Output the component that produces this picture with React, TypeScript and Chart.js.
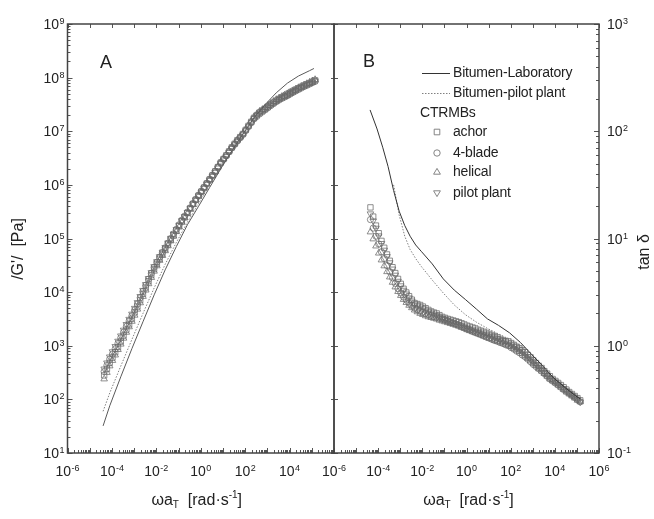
import React, { useEffect, useRef } from 'react';
import { Chart, registerables } from 'chart.js';
Chart.register(...registerables);

const FONT = '"Liberation Sans", Arial, Helvetica, sans-serif';

// ---------- data ----------
// frequencies of the CTRMB measurements (rad/s), 8 per decade
const freq = [4.47e-5, 5.96e-5, 7.94e-5,
  1.06e-4, 1.41e-4, 1.88e-4, 2.51e-4, 3.35e-4, 4.47e-4, 5.96e-4, 7.94e-4,
  1.06e-3, 1.41e-3, 1.88e-3, 2.51e-3, 3.35e-3, 4.47e-3, 5.96e-3, 7.94e-3,
  1.06e-2, 1.41e-2, 1.88e-2, 2.51e-2, 3.35e-2, 4.47e-2, 5.96e-2, 7.94e-2,
  0.106, 0.141, 0.188, 0.251, 0.335, 0.447, 0.596, 0.794,
  1.06, 1.41, 1.88, 2.51, 3.35, 4.47, 5.96, 7.94,
  10.6, 14.1, 18.8, 25.1, 33.5, 44.7, 59.6, 79.4,
  106, 141, 188, 251, 335, 447, 596, 794,
  1060, 1410, 1880, 2510, 3350, 4470, 5960, 7940,
  1.06e4, 1.41e4, 1.88e4, 2.51e4, 3.35e4, 4.47e4, 5.96e4, 7.94e4,
  1.06e5, 1.41e5];

// Panel A: |G'| [Pa]
const gAchor = [280, 370, 480, 600, 760, 950, 1200, 1550, 2000, 2500,
  3200, 4200, 5400, 7100, 9300, 1.22e4, 1.6e4, 2.08e4, 2.7e4, 3.37e4,
  4.2e4, 5.14e4, 6.3e4, 7.74e4, 9.5e4, 1.15e5, 1.4e5, 1.71e5, 2.1e5, 2.51e5,
  3.0e5, 3.63e5, 4.4e5, 5.27e5, 6.3e5, 7.49e5, 8.9e5, 1.06e6, 1.26e6, 1.5e6,
  1.78e6, 2.15e6, 2.6e6, 3.04e6, 3.55e6, 4.21e6, 5.0e6, 5.83e6, 6.8e6, 7.78e6,
  8.9e6, 1.06e7, 1.26e7, 1.5e7, 1.78e7, 2.0e7, 2.24e7, 2.43e7, 2.63e7, 2.88e7,
  3.16e7, 3.43e7, 3.72e7, 3.99e7, 4.27e7, 4.53e7, 4.8e7, 5.14e7, 5.5e7, 5.89e7,
  6.3e7, 6.69e7, 7.1e7, 7.49e7, 7.9e7, 8.39e7, 8.9e7];
const gBlade = [330, 430, 560, 700, 880, 1110, 1400, 1790, 2300, 2880,
  3600, 4650, 6000, 7860, 1.03e4, 1.34e4, 1.75e4, 2.25e4, 2.9e4, 3.61e4,
  4.5e4, 5.49e4, 6.7e4, 8.19e4, 1.0e5, 1.22e5, 1.48e5, 1.8e5, 2.2e5, 2.61e5,
  3.1e5, 3.73e5, 4.5e5, 5.37e5, 6.4e5, 7.59e5, 9.0e5, 1.07e6, 1.27e6, 1.51e6,
  1.8e6, 2.16e6, 2.6e6, 3.02e6, 3.5e6, 4.14e6, 4.9e6, 5.69e6, 6.6e6, 7.58e6,
  8.7e6, 1.03e7, 1.22e7, 1.44e7, 1.7e7, 1.89e7, 2.1e7, 2.29e7, 2.5e7, 2.74e7,
  3.0e7, 3.26e7, 3.55e7, 3.82e7, 4.1e7, 4.34e7, 4.6e7, 4.94e7, 5.3e7, 5.64e7,
  6.0e7, 6.39e7, 6.8e7, 7.19e7, 7.6e7, 8.04e7, 8.5e7];
const gHelical = [240, 317, 420, 530, 670, 847, 1070, 1380, 1780, 2250,
  2850, 3700, 4800, 6310, 8300, 1.09e4, 1.43e4, 1.87e4, 2.45e4, 3.09e4,
  3.9e4, 4.8e4, 5.9e4, 7.29e4, 9.0e4, 1.1e5, 1.34e5, 1.64e5, 2.0e5, 2.41e5,
  2.9e5, 3.53e5, 4.3e5, 5.16e5, 6.2e5, 7.39e5, 8.8e5, 1.05e6, 1.25e6, 1.49e6,
  1.78e6, 2.17e6, 2.65e6, 3.09e6, 3.6e6, 4.28e6, 5.1e6, 5.93e6, 6.9e6, 7.92e6,
  9.1e6, 1.09e7, 1.3e7, 1.55e7, 1.85e7, 2.09e7, 2.35e7, 2.54e7, 2.75e7, 3.01e7,
  3.3e7, 3.59e7, 3.9e7, 4.17e7, 4.45e7, 4.72e7, 5.0e7, 5.34e7, 5.7e7, 6.09e7,
  6.5e7, 6.89e7, 7.3e7, 7.74e7, 8.2e7, 8.69e7, 9.2e7];
const gPilot = [370, 479, 620, 775, 970, 1220, 1530, 1960, 2500, 3120,
  3900, 5000, 6400, 8310, 1.08e4, 1.39e4, 1.8e4, 2.32e4, 3.0e4, 3.71e4,
  4.6e4, 5.59e4, 6.8e4, 8.29e4, 1.01e5, 1.22e5, 1.47e5, 1.78e5, 2.15e5, 2.56e5,
  3.05e5, 3.66e5, 4.4e5, 5.22e5, 6.2e5, 7.34e5, 8.7e5, 1.03e6, 1.22e6, 1.45e6,
  1.72e6, 2.07e6, 2.5e6, 2.92e6, 3.4e6, 4.04e6, 4.8e6, 5.59e6, 6.5e6, 7.48e6,
  8.6e6, 1.02e7, 1.21e7, 1.44e7, 1.72e7, 1.95e7, 2.2e7, 2.39e7, 2.6e7, 2.84e7,
  3.1e7, 3.36e7, 3.65e7, 3.92e7, 4.2e7, 4.44e7, 4.7e7, 5.04e7, 5.4e7, 5.79e7,
  6.2e7, 6.59e7, 7.0e7, 7.39e7, 7.8e7, 8.24e7, 8.7e7];

const freqLineA = [4e-5, 8e-5, 2.5e-4, 8e-4, 2.5e-3, 8e-3, 2.5e-2, 8e-2, 0.25, 0.8,
  2.5, 8, 25, 80, 250, 800, 2500, 8000, 2.5e4, 8e4, 1.25e5];
const gLabLine = [32, 76, 263, 890, 2800, 8900, 2.6e4, 7.1e4, 1.8e5, 4.0e5,
  8.9e5, 2.0e6, 4.3e6, 8.9e6, 1.78e7, 3.16e7, 5.2e7, 7.9e7, 1.07e8, 1.35e8, 1.48e8];
const gPilotLine = [60, 132, 417, 1320, 4000, 1.2e4, 3.3e4, 8.5e4, 2.0e5, 4.5e5,
  1.0e6, 2.1e6, 4.5e6, 8.9e6, 1.66e7, 2.8e7, 4.3e7, 5.9e7, 7.4e7, 8.9e7, 9.5e7];

// Panel B: tan delta
const tanAchor = [19.5, 16.0, 13.2, 11.2, 9.5, 8.2, 7.1, 6.2, 5.4, 4.76,
  4.2, 3.78, 3.4, 3.14, 2.9, 2.69, 2.5, 2.45, 2.4, 2.32,
  2.24, 2.16, 2.09, 2.04, 2.0, 1.93, 1.86, 1.82, 1.78, 1.75,
  1.72, 1.69, 1.66, 1.62, 1.58, 1.54, 1.51, 1.48, 1.45, 1.41,
  1.38, 1.35, 1.32, 1.29, 1.26, 1.23, 1.2, 1.16, 1.12, 1.11,
  1.1, 1.06, 1.02, 0.98, 0.95, 0.91, 0.87, 0.82, 0.78, 0.73,
  0.69, 0.65, 0.62, 0.58, 0.55, 0.52, 0.49, 0.47, 0.45, 0.43,
  0.41, 0.39, 0.37, 0.355, 0.34, 0.325, 0.31];
const tanBlade = [15, 12.5, 10.5, 8.9, 7.5, 6.5, 5.6, 4.9, 4.3, 3.82,
  3.4, 3.11, 2.85, 2.67, 2.5, 2.37, 2.25, 2.17, 2.1, 2.05,
  2.0, 1.96, 1.92, 1.88, 1.85, 1.81, 1.78, 1.74, 1.7, 1.66,
  1.63, 1.59, 1.55, 1.51, 1.47, 1.43, 1.4, 1.36, 1.33, 1.3,
  1.27, 1.24, 1.21, 1.18, 1.15, 1.12, 1.1, 1.07, 1.05, 1.02,
  1.0, 0.96, 0.93, 0.89, 0.86, 0.82, 0.79, 0.75, 0.71, 0.67,
  0.64, 0.61, 0.58, 0.55, 0.52, 0.49, 0.47, 0.45, 0.43, 0.41,
  0.39, 0.375, 0.36, 0.345, 0.33, 0.315, 0.3];
const tanHelical = [11.5, 9.9, 8.5, 7.3, 6.3, 5.55, 4.9, 4.37, 3.9, 3.53,
  3.2, 2.94, 2.7, 2.53, 2.38, 2.26, 2.15, 2.07, 2.0, 1.95,
  1.9, 1.86, 1.83, 1.8, 1.77, 1.73, 1.7, 1.67, 1.64, 1.61,
  1.58, 1.55, 1.52, 1.48, 1.45, 1.41, 1.38, 1.35, 1.32, 1.29,
  1.26, 1.23, 1.2, 1.17, 1.15, 1.12, 1.1, 1.08, 1.06, 1.03,
  1.01, 0.98, 0.95, 0.91, 0.88, 0.84, 0.8, 0.76, 0.72, 0.68,
  0.65, 0.61, 0.58, 0.55, 0.52, 0.49, 0.47, 0.45, 0.43, 0.41,
  0.39, 0.37, 0.355, 0.34, 0.325, 0.31, 0.3];
const tanPilot = [17, 14.6, 12.5, 10.6, 9.0, 7.8, 6.8, 5.95, 5.2, 4.56,
  4.0, 3.63, 3.3, 3.04, 2.8, 2.62, 2.45, 2.37, 2.3, 2.22,
  2.15, 2.08, 2.02, 1.97, 1.92, 1.86, 1.8, 1.76, 1.72, 1.68,
  1.65, 1.61, 1.58, 1.54, 1.5, 1.47, 1.44, 1.41, 1.38, 1.35,
  1.32, 1.29, 1.27, 1.24, 1.22, 1.19, 1.17, 1.14, 1.12, 1.09,
  1.06, 1.02, 0.99, 0.95, 0.92, 0.88, 0.84, 0.79, 0.75, 0.71,
  0.67, 0.63, 0.6, 0.56, 0.53, 0.5, 0.48, 0.46, 0.44, 0.42,
  0.4, 0.38, 0.36, 0.345, 0.33, 0.315, 0.3];

const freqLabB = [4.3e-5, 8.9e-5, 1.6e-4, 2.8e-4, 5e-4, 8.9e-4, 1.6e-3, 2.8e-3, 5e-3, 8.9e-3,
  2.8e-2, 8.9e-2, 0.28, 0.89, 2.8, 8.9, 28, 89, 280, 890, 2800, 8900, 2.8e4, 8.9e4, 1.4e5];
const tanLabLine = [158, 105, 71, 47, 28, 18, 13.2, 10.5, 8.7, 7.6,
  5.8, 4.2, 3.3, 2.7, 2.2, 1.78, 1.55, 1.32, 1.07, 0.83, 0.65, 0.5, 0.41, 0.34, 0.32];
const freqPilotB = [5e-4, 8.9e-4, 1.6e-3, 2.8e-3, 5e-3, 8.9e-3, 2.8e-2, 8.9e-2, 0.28, 0.89,
  2.8, 8.9, 28, 89, 280, 890, 2800, 8900, 2.8e4, 8.9e4, 1.4e5];
const tanPilotLine = [31.6, 16.6, 10.5, 7.9, 6.5, 5.5, 4.1, 3.1, 2.4, 1.95,
  1.66, 1.45, 1.29, 1.15, 1.0, 0.79, 0.63, 0.5, 0.41, 0.34, 0.32];

// tick exponents
const xTickExp = [-6, -4, -2, 0, 2, 4, 6];
const yTickExpA = [1, 2, 3, 4, 5, 6, 7, 8, 9];
const yTickExpB = [-1, 0, 1, 2, 3];

// texts
const lineNames = ['Bitumen-Laboratory', 'Bitumen-pilot plant'];
const groupName = 'CTRMBs';
const seriesNames = ['achor', '4-blade', 'helical', 'pilot plant'];

// ---------- helpers ----------
const pts = (xs: number[], ys: number[]) => xs.map((x, i) => ({ x, y: ys[i] }));

const markerDefs = [
  { pointStyle: 'rect', pointRadius: 3.8, pointRotation: 0 },
  { pointStyle: 'circle', pointRadius: 3.1, pointRotation: 0 },
  { pointStyle: 'triangle', pointRadius: 3.8, pointRotation: 0 },
  { pointStyle: 'triangle', pointRadius: 3.8, pointRotation: 180 },
];
const MARK = '#6a6a6a';
const LAB = '#333';
const PIL = '#808080';

function markerSet(label: string, ys: number[], i: number) {
  return {
    label,
    data: pts(freq, ys),
    showLine: false,
    borderColor: MARK,
    pointBorderColor: MARK,
    backgroundColor: 'rgba(0,0,0,0)',
    pointBackgroundColor: 'rgba(0,0,0,0)',
    pointBorderWidth: 0.75,
    ...markerDefs[i],
  };
}
function lineSet(label: string, xs: number[], ys: number[], dashed: boolean, color: string) {
  return {
    label,
    data: pts(xs, ys),
    showLine: true,
    pointRadius: 0,
    borderColor: color,
    borderWidth: 1,
    borderDash: dashed ? [1.5, 1.5] : [],
    tension: 0,
  };
}

function seg(ctx: CanvasRenderingContext2D, x1: number, y1: number, x2: number, y2: number) {
  ctx.beginPath();
  ctx.moveTo(x1, y1);
  ctx.lineTo(x2, y2);
  ctx.stroke();
}
function logTicks(minE: number, maxE: number) {
  const out: { v: number; major: boolean }[] = [];
  for (let e = minE; e <= maxE; e++) {
    for (let m = 1; m <= 9; m++) {
      if (e === maxE && m > 1) break;
      out.push({ v: m * Math.pow(10, e), major: m === 1 });
    }
  }
  return out;
}
// draws "10" with superscript exponent; y is vertical centre of "10"
function drawPow(ctx: CanvasRenderingContext2D, exp: number, x: number, y: number, align: string) {
  ctx.font = `14px ${FONT}`;
  const w1 = ctx.measureText('10').width;
  ctx.font = `9px ${FONT}`;
  const e = String(exp);
  const w2 = ctx.measureText(e).width;
  const total = w1 + w2 + 0.5;
  const x0 = align === 'center' ? x - total / 2 : align === 'right' ? x - total : x;
  ctx.textAlign = 'left';
  ctx.textBaseline = 'alphabetic';
  ctx.font = `14px ${FONT}`;
  ctx.fillText('10', x0, y + 5);
  ctx.font = `9px ${FONT}`;
  ctx.fillText(e, x0 + w1 + 0.5, y);
}
type Part = [string, number, number];
function drawRich(ctx: CanvasRenderingContext2D, parts: Part[], x: number, y: number) {
  let total = 0;
  const ws = parts.map(([t, s]) => {
    ctx.font = `${s}px ${FONT}`;
    const w = ctx.measureText(t).width;
    total += w;
    return w;
  });
  let cx = x - total / 2;
  ctx.textAlign = 'left';
  ctx.textBaseline = 'alphabetic';
  parts.forEach(([t, s, dy], i) => {
    ctx.font = `${s}px ${FONT}`;
    ctx.fillText(t, cx, y + dy);
    cx += ws[i];
  });
}
const xTitle: Part[] = [['ωa', 16, 0], ['T', 10, 3], ['  [rad·s', 16, 0], ['-1', 10, -7], [']', 16, 0]];

function drawMarkerIcon(ctx: CanvasRenderingContext2D, i: number, x: number, y: number) {
  ctx.beginPath();
  if (i === 0) {
    ctx.rect(x - 2.8, y - 2.8, 5.6, 5.6);
  } else if (i === 1) {
    ctx.arc(x, y, 3.2, 0, Math.PI * 2);
  } else {
    const s = i === 2 ? 1 : -1;
    ctx.moveTo(x, y - 3.6 * s);
    ctx.lineTo(x + 3.4, y + 2.2 * s);
    ctx.lineTo(x - 3.4, y + 2.2 * s);
    ctx.closePath();
  }
  ctx.stroke();
}

const plotA = {
  id: 'decorA',
  afterDraw(chart: any) {
    const ctx: CanvasRenderingContext2D = chart.ctx;
    const { left, right, top, bottom } = chart.chartArea;
    const xs = chart.scales.x;
    const ys = chart.scales.y;
    ctx.save();
    ctx.strokeStyle = '#555';
    ctx.lineWidth = 1;
    for (const t of logTicks(-6, 6)) {
      const px = Math.round(xs.getPixelForValue(t.v)) + 0.5;
      seg(ctx, px, bottom, px, bottom - (t.major ? 5 : 3));
      if (t.major) seg(ctx, px, top, px, top + 4);
    }
    for (const t of logTicks(1, 9)) {
      const py = Math.round(ys.getPixelForValue(t.v)) + 0.5;
      seg(ctx, left, py, left + (t.major ? 5 : 3), py);
      if (t.major) seg(ctx, right - 3, py, right + 4, py);
    }
    ctx.strokeStyle = '#444';
    ctx.lineWidth = 1.5;
    ctx.strokeRect(left, top, right - left, bottom - top);
    ctx.fillStyle = '#222';
    for (const e of xTickExp) {
      if (e === 6) continue;
      drawPow(ctx, e, xs.getPixelForValue(Math.pow(10, e)), 471, 'center');
    }
    for (const e of yTickExpA) {
      drawPow(ctx, e, left - 3, ys.getPixelForValue(Math.pow(10, e)), 'right');
    }
    drawRich(ctx, xTitle, (left + right) / 2 - 4, 505);
    ctx.font = `18px ${FONT}`;
    ctx.textAlign = 'left';
    ctx.textBaseline = 'alphabetic';
    ctx.fillText('A', 100, 68);
    ctx.save();
    ctx.translate(19, 249);
    ctx.rotate(-Math.PI / 2);
    ctx.font = `16px ${FONT}`;
    ctx.textAlign = 'center';
    ctx.textBaseline = 'middle';
    ctx.fillText("/G'/  [Pa]", 0, 0);
    ctx.restore();
    ctx.restore();
  },
};

const plotB = {
  id: 'decorB',
  afterDraw(chart: any) {
    const ctx: CanvasRenderingContext2D = chart.ctx;
    const { left, right, top, bottom } = chart.chartArea;
    const xs = chart.scales.x;
    const ys = chart.scales.y;
    ctx.save();
    ctx.strokeStyle = '#555';
    ctx.lineWidth = 1;
    for (const t of logTicks(-6, 6)) {
      const px = Math.round(xs.getPixelForValue(t.v)) + 0.5;
      seg(ctx, px, bottom, px, bottom - (t.major ? 5 : 3));
      if (t.major) seg(ctx, px, top, px, top + 4);
    }
    for (const t of logTicks(-1, 3)) {
      const py = Math.round(ys.getPixelForValue(t.v)) + 0.5;
      seg(ctx, right, py, right - (t.major ? 5 : 3), py);
    }
    ctx.strokeStyle = '#444';
    ctx.lineWidth = 1.5;
    ctx.strokeRect(left, top, right - left, bottom - top);
    ctx.fillStyle = '#222';
    for (const e of xTickExp) {
      drawPow(ctx, e, xs.getPixelForValue(Math.pow(10, e)), 471, 'center');
    }
    for (const e of yTickExpB) {
      drawPow(ctx, e, right + 8, ys.getPixelForValue(Math.pow(10, e)), 'left');
    }
    drawRich(ctx, xTitle, (left + right) / 2 + 2, 505);
    ctx.font = `18px ${FONT}`;
    ctx.textAlign = 'left';
    ctx.textBaseline = 'alphabetic';
    ctx.fillText('B', left + 29, 67);
    // right title
    ctx.save();
    ctx.translate(right + 46, 252);
    ctx.rotate(-Math.PI / 2);
    ctx.font = `16px ${FONT}`;
    ctx.textAlign = 'center';
    ctx.textBaseline = 'middle';
    ctx.fillText('tan δ', 0, 0);
    ctx.restore();
    // legend
    const lx = left + 88;
    const tx = left + 119;
    (ctx as any).letterSpacing = '-0.2px';
    ctx.font = `14px ${FONT}`;
    ctx.textAlign = 'left';
    ctx.textBaseline = 'middle';
    ctx.lineWidth = 1;
    ctx.strokeStyle = LAB;
    seg(ctx, lx, 73.5, lx + 28, 73.5);
    ctx.strokeStyle = PIL;
    ctx.setLineDash([1.5, 1.5]);
    seg(ctx, lx, 93.5, lx + 28, 93.5);
    ctx.setLineDash([]);
    ctx.fillText(lineNames[0], tx, 73);
    ctx.fillText(lineNames[1], tx, 93);
    ctx.fillText(groupName, lx - 2, 113);
    const my = [132, 153, 172, 193];
    ctx.strokeStyle = '#777';
    ctx.lineWidth = 0.9;
    seriesNames.forEach((n, i) => {
      drawMarkerIcon(ctx, i, lx + 15, my[i]);
      ctx.fillText(n, tx, my[i]);
    });
    ctx.restore();
  },
};

function baseOptions(padding: any, yMin: number, yMax: number) {
  return {
    animation: false,
    responsive: false,
    maintainAspectRatio: false,
    devicePixelRatio: 1,
    layout: { padding },
    events: [],
    plugins: { legend: { display: false }, tooltip: { enabled: false }, title: { display: false } },
    scales: {
      x: { type: 'logarithmic', min: 1e-6, max: 1e6, display: false },
      y: { type: 'logarithmic', min: yMin, max: yMax, display: false },
    },
  };
}

export default function App() {
  const refA = useRef<HTMLCanvasElement>(null);
  const refB = useRef<HTMLCanvasElement>(null);
  useEffect(() => {
    const chartA = new Chart(refA.current as HTMLCanvasElement, {
      type: 'scatter',
      data: {
        datasets: [
          lineSet(lineNames[0], freqLineA, gLabLine, false, '#5a5a5a'),
          lineSet(lineNames[1], freqLineA, gPilotLine, true, PIL),
          markerSet(seriesNames[0], gAchor, 0),
          markerSet(seriesNames[1], gBlade, 1),
          markerSet(seriesNames[2], gHelical, 2),
          markerSet(seriesNames[3], gPilot, 3),
        ],
      },
      options: baseOptions({ left: 67.5, right: 11, top: 24, bottom: 66 }, 1e1, 1e9) as any,
      plugins: [plotA],
    } as any);
    const chartB = new Chart(refB.current as HTMLCanvasElement, {
      type: 'scatter',
      data: {
        datasets: [
          lineSet(lineNames[0], freqLabB, tanLabLine, false, LAB),
          lineSet(lineNames[1], freqPilotB, tanPilotLine, true, PIL),
          markerSet(seriesNames[0], tanAchor, 0),
          markerSet(seriesNames[1], tanBlade, 1),
          markerSet(seriesNames[2], tanHelical, 2),
          markerSet(seriesNames[3], tanPilot, 3),
        ],
      },
      options: baseOptions({ left: 19, right: 55, top: 24, bottom: 66 }, 1e-1, 1e3) as any,
      plugins: [plotB],
    } as any);
    return () => {
      chartA.destroy();
      chartB.destroy();
    };
  }, []);
  return (
    <div style={{ position: 'absolute', left: 0, top: 0, width: 654, height: 519, background: '#fff', overflow: 'hidden' }}>
      <canvas ref={refA} width={345} height={519} style={{ position: 'absolute', left: 0, top: 0, width: 345, height: 519 }} />
      <canvas ref={refB} width={339} height={519} style={{ position: 'absolute', left: 315, top: 0, width: 339, height: 519 }} />
    </div>
  );
}
